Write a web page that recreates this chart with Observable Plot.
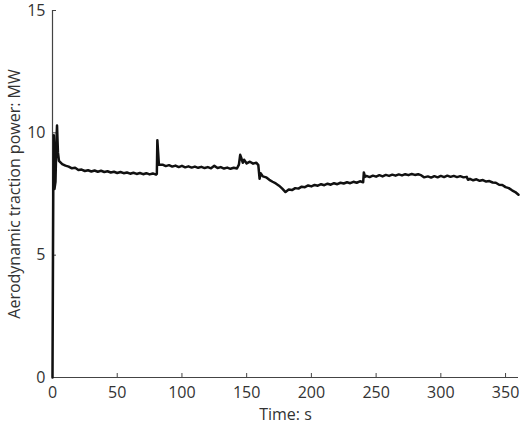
<!DOCTYPE html>
<html>
<head>
<meta charset="utf-8">
<script src="https://cdn.jsdelivr.net/npm/d3@7"></script>
<script src="https://cdn.jsdelivr.net/npm/@observablehq/plot@0.6"></script>
<style>
  html, body { margin: 0; padding: 0; background: #fff; }
  #chart { width: 520px; height: 427px; }
</style>
</head>
<body>
<div id="chart"></div>
<script>
const xLabel = "Time: s";
const yLabel = "Aerodynamic traction power: MW";
const xTicks = [0, 50, 100, 150, 200, 250, 300, 350];
const yTicks = [0, 5, 10, 15];

const timeS = [
  0, 0.6, 1.0, 1.5, 2.3, 3.0, 3.5, 4.2, 5.0,
  7.5, 10, 12.5, 15, 17.5, 20, 22.5, 25, 27.5, 30, 32.5, 35, 37.5, 40, 42.5, 45, 47.5, 50,
  52.5, 55, 57.5, 60, 62.5, 65, 67.5, 70, 72.5, 75, 77.5, 80,
  80.6, 81.0, 81.6, 82.2,
  85, 87.5, 90, 92.5, 95, 97.5, 100, 102.5, 105, 107.5, 110, 112.5, 115, 117.5, 120, 122.5,
  125, 127.5, 130, 132.5, 135, 137.5, 140, 142.5,
  144, 145, 146, 147, 148, 150, 152.5, 155, 157.5, 159, 160, 160.8, 162.5, 165, 167.5, 170,
  172.5, 175, 177.5, 180, 182.5, 185, 187.5, 190, 192.5, 195, 197.5, 200, 202.5, 205, 207.5,
  210, 212.5, 215, 217.5, 220, 222.5, 225, 227.5, 230, 232.5, 235, 237.5, 240,
  240.5, 241.5, 242.5, 245, 247.5, 250, 252.5, 255, 257.5, 260, 262.5, 265, 267.5, 270,
  272.5, 275, 277.5, 280, 282.5, 285, 287, 290, 292.5, 295, 297.5, 300, 302.5, 305, 307.5,
  310, 312.5, 315, 317.5, 320, 321, 322.5, 325, 327.5, 330, 332.5, 335, 337.5, 340, 342.5,
  345, 347.5, 350, 352.5, 355, 357.5, 360
];
const powerMW = [
  0, 7.6, 9.9, 7.7, 8.0, 9.6, 10.3, 9.2, 8.85,
  8.72, 8.66, 8.62, 8.55, 8.57, 8.48, 8.5, 8.44, 8.47, 8.42, 8.46, 8.41, 8.45, 8.4, 8.43, 8.38, 8.41, 8.36,
  8.4, 8.35, 8.38, 8.33, 8.37, 8.32, 8.36, 8.31, 8.35, 8.3, 8.34, 8.29,
  8.32, 9.7, 9.2, 8.7,
  8.7, 8.64, 8.68, 8.62, 8.66, 8.6, 8.65, 8.59, 8.63, 8.58, 8.62, 8.57, 8.61, 8.56, 8.6, 8.55,
  8.65, 8.56, 8.6, 8.54, 8.58, 8.53, 8.57, 8.54,
  8.7, 9.1, 8.95, 8.78, 8.9, 8.75, 8.82, 8.74, 8.78, 8.68, 8.12, 8.35, 8.22, 8.18, 8.08, 8.0,
  7.93, 7.84, 7.72, 7.58, 7.68, 7.66, 7.74, 7.72, 7.8, 7.78, 7.85, 7.81, 7.87, 7.84, 7.9,
  7.86, 7.92, 7.88, 7.94, 7.9, 7.96, 7.93, 7.98, 7.94, 8.0, 7.96, 8.02, 7.98,
  8.38, 8.2, 8.24, 8.19, 8.25, 8.21, 8.27, 8.22, 8.28, 8.24, 8.29, 8.25, 8.3, 8.26,
  8.31, 8.27, 8.32, 8.28, 8.31, 8.26, 8.18, 8.22, 8.17, 8.23, 8.18, 8.24, 8.19, 8.25, 8.2,
  8.24, 8.19, 8.23, 8.18, 8.2, 8.08, 8.12, 8.06, 8.1, 8.04, 8.07, 8.01, 8.03, 7.97, 7.96,
  7.88, 7.87, 7.78, 7.74, 7.65, 7.58, 7.47
];

const data = timeS.map((t, i) => ({t, p: powerMW[i]}));
const axisColor = "#444";
const textColor = "#333";

const chart = Plot.plot({
  width: 520,
  height: 427,
  marginLeft: 52,
  marginRight: 2,
  marginTop: 10,
  marginBottom: 50,
  style: {fontFamily: "'Open Sans', sans-serif", fontSize: "16px", color: textColor, background: "#fff"},
  x: {domain: [0, 360], label: null},
  y: {domain: [0, 15], label: null},
  marks: [
    Plot.axisX({ticks: xTicks, tickSize: -4, tickPadding: 13, stroke: axisColor, fill: textColor, fontSize: 16, label: null}),
    Plot.axisY({ticks: yTicks, tickSize: -4, tickPadding: 11, stroke: axisColor, fill: textColor, fontSize: 16, label: null}),
    Plot.ruleY([0], {stroke: axisColor, strokeWidth: 1.2}),
    Plot.ruleX([0], {stroke: axisColor, strokeWidth: 1.2}),
    Plot.line(data, {x: "t", y: "p", stroke: "#111", strokeWidth: 2.5, strokeLinejoin: "round"}),
    Plot.text([xLabel], {frameAnchor: "bottom", dy: 42, fontSize: 16, fill: textColor}),
    Plot.text([yLabel], {frameAnchor: "left", textAnchor: "middle", rotate: -90, dx: -38, fontSize: 16, fill: textColor})
  ]
});
document.getElementById("chart").appendChild(chart);
</script>
</body>
</html>
